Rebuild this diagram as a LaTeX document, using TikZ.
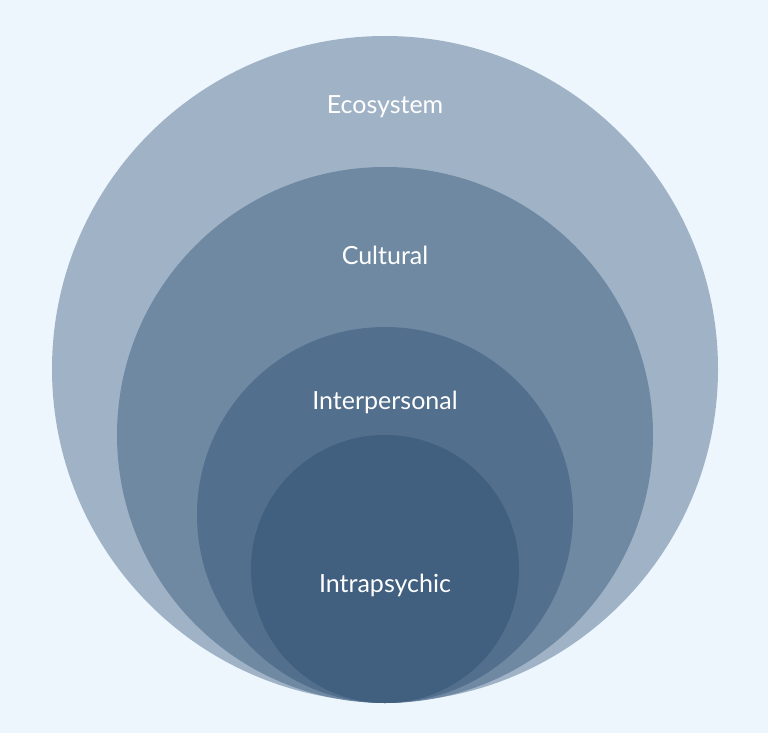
\documentclass[tikz,border=0pt]{standalone}
\usepackage{fontspec}
\setmainfont{Lato}
\definecolor{bgblue}{HTML}{EEF6FD}
\definecolor{ecoblue}{HTML}{A0B3C6}
\definecolor{cultblue}{HTML}{6F89A3}
\definecolor{interblue}{HTML}{526F8D}
\definecolor{intrablue}{HTML}{415F7F}
\tikzset{
  ring/.style={circle, inner sep=0pt},
  ringlabel/.style={text=white, font=\fontsize{25}{30}\selectfont}
}
\begin{document}
\begin{tikzpicture}[x=1pt, y=-1pt]
    % background and page size
    \fill[bgblue] (0, 0) rectangle (768, 733);
    \useasboundingbox (0, 0) rectangle (768, 733);

    % nested circles, all touching at the bottom
    \fill[ecoblue] (385, 369) circle (333);
    \fill[cultblue] (385, 435) circle (268);
    \fill[interblue] (385, 515) circle (188);
    \fill[intrablue] (385, 569) circle (134);

    \node[ringlabel] (eco) at (385, 107) {Ecosystem};
    \node[ringlabel] (cult) at (385, 255) {Cultural};
    \node[ringlabel] (inter) at (385, 402) {Interpersonal};
    \node[ringlabel] (intra) at (385, 585) {Intrapsychic};
\end{tikzpicture}
\end{document}
